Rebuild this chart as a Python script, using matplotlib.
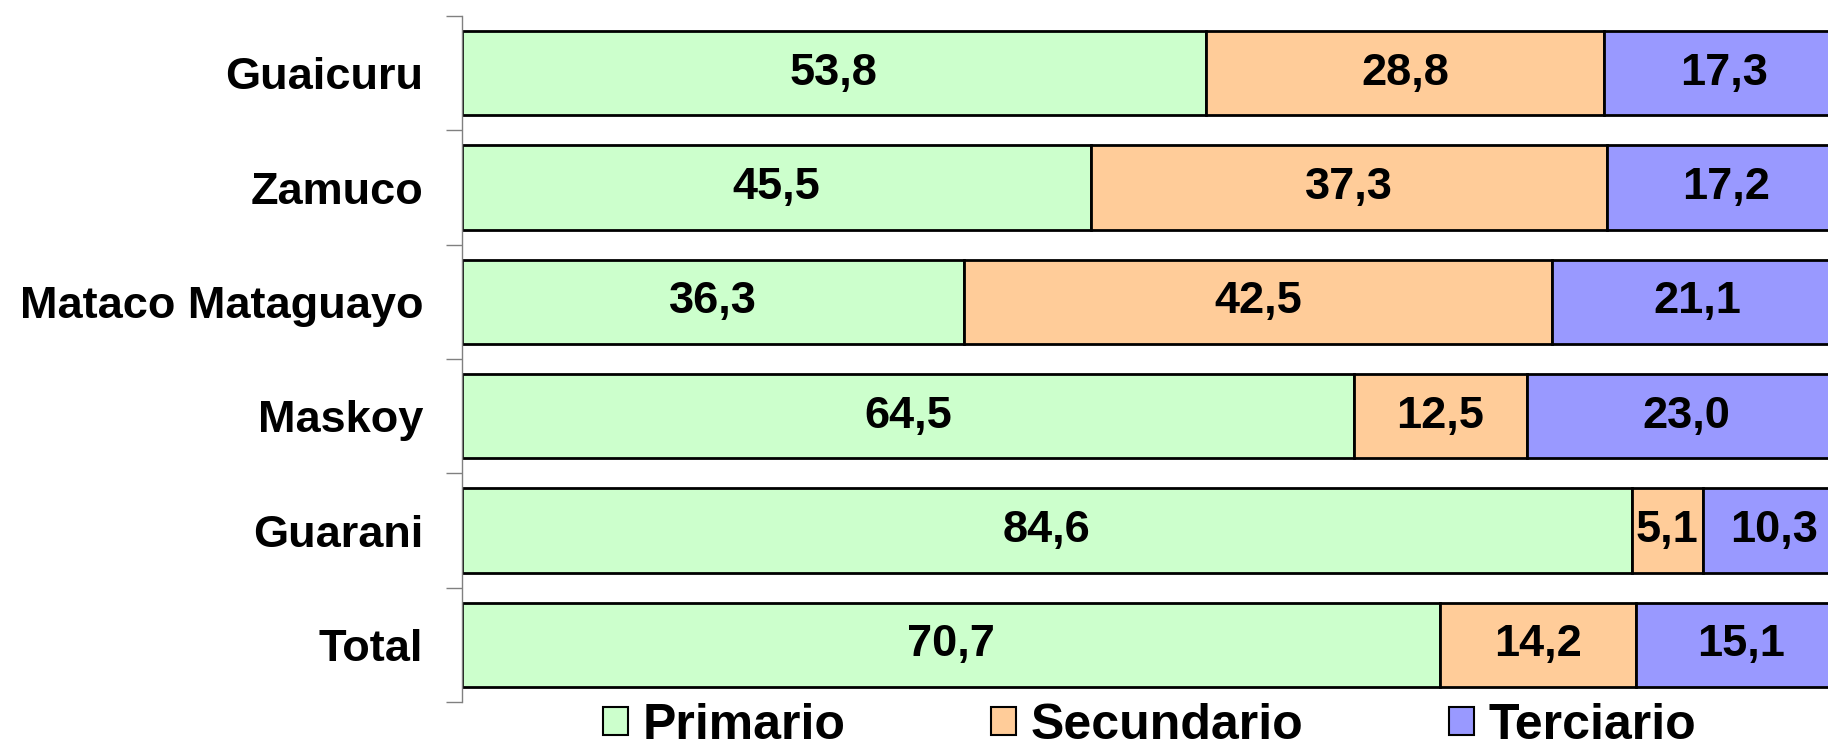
import matplotlib.pyplot as plt
import numpy as np

# data (percent per sector)
categories = ['Guaicuru', 'Zamuco', 'Mataco Mataguayo', 'Maskoy', 'Guarani', 'Total']
primario = [53.8, 45.5, 36.3, 64.5, 84.6, 70.7]
secundario = [28.8, 37.3, 42.5, 12.5, 5.1, 14.2]
terciario = [17.3, 17.2, 21.1, 23.0, 10.3, 15.1]
series_names = ['Primario', 'Secundario', 'Terciario']

colors = ['#CCFFCC', '#FFCC99', '#9999FF']

plt.rcParams['font.family'] = ['Liberation Sans', 'DejaVu Sans']
plt.rcParams['font.weight'] = 'bold'

fig = plt.figure(figsize=(18.28, 7.45), dpi=100)
ax = fig.add_axes([0.2527, 0.0577, 0.7566, 0.9208])

# top category first
y = np.arange(len(categories))[::-1]
left = np.zeros(len(categories))
for name, vals, col in zip(series_names, [primario, secundario, terciario], colors):
    vals = np.array(vals)
    ax.barh(y, vals, left=left, height=0.735, color=col,
            edgecolor='black', linewidth=2, label=name)
    for yi, l, v in zip(y, left, vals):
        ax.text(l + v / 2, yi, f'{v:.1f}'.replace('.', ','),
                ha='center', va='center', fontsize=32.5, fontweight='bold')
    left = left + vals

ax.set_xlim(0, 100)
ax.set_ylim(-0.5, len(categories) - 0.5)
ax.set_yticks(y)
ax.set_yticklabels(categories, fontsize=32.5, fontweight='bold')
ax.tick_params(axis='y', which='major', length=0, pad=28)
ax.set_yticks(np.arange(-0.5, len(categories)), minor=True)
ax.tick_params(axis='y', which='minor', length=11.5, width=1, color='#808080')
ax.set_xticks([])

for s in ['top', 'right', 'bottom']:
    ax.spines[s].set_visible(False)
ax.spines['left'].set_color('#808080')
ax.spines['left'].set_linewidth(1)

leg = fig.legend(loc='center', bbox_to_anchor=(0.629, 0.026), ncol=3,
                 frameon=False, fontsize=36, handlelength=0.5, handleheight=0.5,
                 handletextpad=0.3, columnspacing=2.9, borderpad=0)
for h in leg.legend_handles:
    h.set_linewidth(1.5)

fig.savefig('out.png', dpi=100, facecolor='white')
